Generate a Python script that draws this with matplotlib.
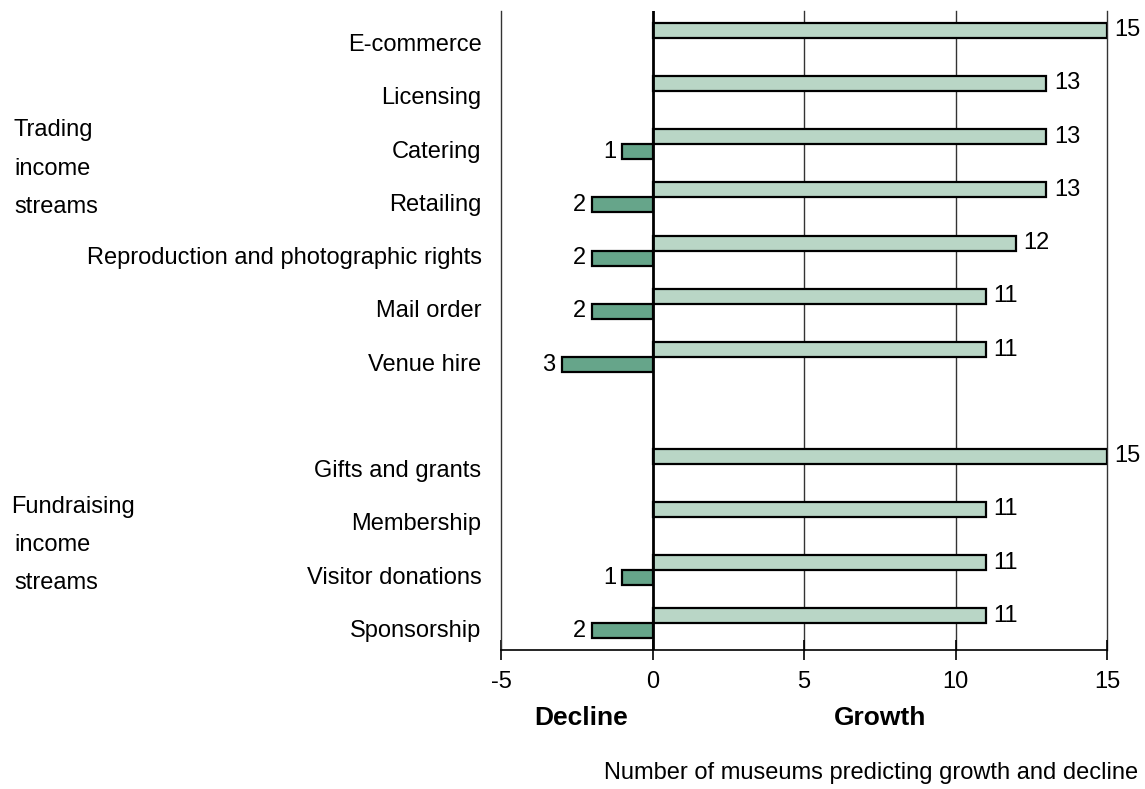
import matplotlib.pyplot as plt
from matplotlib.transforms import ScaledTranslation

plt.rcParams['font.family'] = ['Liberation Sans', 'DejaVu Sans']

# Data (blank entry = gap between the two groups)
categories = ["E-commerce", "Licensing", "Catering", "Retailing",
              "Reproduction and photographic rights", "Mail order", "Venue hire",
              "", "Gifts and grants", "Membership", "Visitor donations", "Sponsorship"]
growth = [15, 13, 13, 13, 12, 11, 11, None, 15, 11, 11, 11]
decline = [0, 0, 1, 2, 2, 2, 3, None, 0, 0, 1, 2]
xticks = [-5, 0, 5, 10, 15]

W, H = 1145, 789
fs = 17
fig = plt.figure(figsize=(W / 100, H / 100), dpi=100)
ax = fig.add_axes([501 / W, 1 - 650 / H, (1107 - 501) / W, (650 - 11) / H])

light = "#b9d6c6"
dark = "#66a58a"
bh = 0.28

for i, (g, d) in enumerate(zip(growth, decline)):
    if g is None:
        continue
    ax.barh(i - bh / 2, g, height=bh, color=light, edgecolor="black", linewidth=1.6, zorder=3)
    ax.text(g + 0.25, i - bh / 2, str(g), ha="left", va="center", fontsize=fs, zorder=4)
    if d:
        ax.barh(i + bh / 2, -d, height=bh, color=dark, edgecolor="black", linewidth=1.6, zorder=3)
        ax.text(-d - 0.2, i + bh / 2, str(d), ha="right", va="center", fontsize=fs, zorder=4)

ax.set_xlim(-5, 15)
ax.set_ylim(len(categories) - 0.5, -0.5)
ax.set_xticks(xticks)
ax.set_xticklabels([str(t) for t in xticks], fontsize=fs)
ax.tick_params(axis="x", direction="inout", length=14, width=1.2, pad=8)
ax.set_yticks(range(len(categories)))
ax.set_yticklabels(categories, fontsize=fs)
ax.tick_params(axis="y", length=0, pad=14)
shift = ScaledTranslation(0, -5 / 100, fig.dpi_scale_trans)
for lbl in ax.get_yticklabels():
    lbl.set_transform(lbl.get_transform() + shift)

# gridlines and zero line
for x in [5, 10, 15]:
    ax.axvline(x, color="#333333", linewidth=1.0, zorder=1, clip_on=False)
ax.axvline(0, color="black", linewidth=2.0, zorder=5)

for s in ["top", "right"]:
    ax.spines[s].set_visible(False)
ax.spines["left"].set_color("#333333")
ax.spines["left"].set_linewidth(1.0)
ax.spines["bottom"].set_linewidth(1.2)

# group labels
def px(x, y):
    return x / W, 1 - y / H

for txt, (x, y) in [("Trading", (14, 130)), ("income", (14, 169)), ("streams", (14, 207)),
                    ("Fundraising", (11, 507)), ("income", (14, 545)), ("streams", (14, 583))]:
    fig.text(*px(x, y), txt, ha="left", va="center", fontsize=fs)

fig.text(*px(581, 718), "Decline", ha="center", va="center", fontsize=19, fontweight="bold")
fig.text(*px(880, 718), "Growth", ha="center", va="center", fontsize=19, fontweight="bold")
fig.text(*px(1138, 773), "Number of museums predicting growth and decline",
         ha="right", va="center", fontsize=fs)

fig.savefig("out.png", dpi=100)
